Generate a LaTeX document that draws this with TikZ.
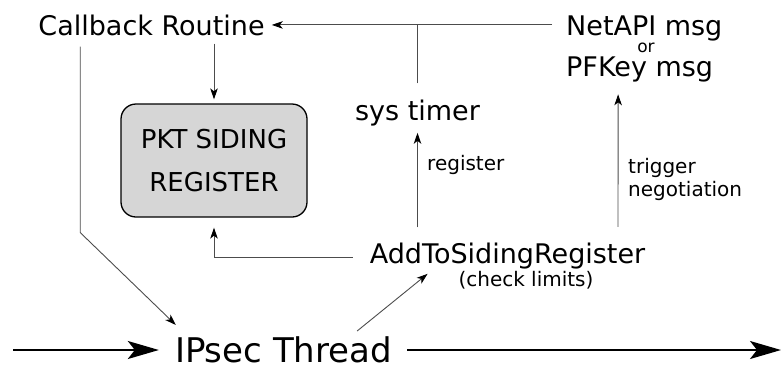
\documentclass[tikz,border=0pt]{standalone}
\usepackage{fontspec}
\setmainfont{DejaVu Sans}
\usetikzlibrary{positioning,arrows.meta,calc}
\tikzset{
        link/.style={draw=black!70, line width=0.9pt, -{Stealth[length=11pt,width=7.5pt,inset=3pt,color=black]}}, % thin connectors
        plain/.style={draw=black!70, line width=0.9pt}, % thin line, no head
        flow/.style={draw=black, line width=1.8pt, -{Stealth[length=31pt,width=18pt,inset=7pt]}}, % the thread's own flow
        lbl/.style={inner sep=0pt, font=\fontsize{27}{30}\selectfont},
        note/.style={inner sep=0pt, font=\fontsize{20}{23}\selectfont},
        siding/.style={draw, line width=1.3pt, fill=black!16, rounded corners=15pt,
                minimum width=186pt, minimum height=113pt, align=center,
                font=\fontsize{26}{43}\selectfont},
}

\begin{document}
\begin{tikzpicture}[x=1pt,y=-1pt]
\useasboundingbox (0,0) rectangle (781,365);

\node[lbl, anchor=base] (cb) at (151.5,35) {Callback Routine};
\node[lbl, anchor=base west] (net) at (566,35) {NetAPI msg};
\node[inner sep=0pt, font=\fontsize{17}{20}\selectfont, anchor=base] (or) at (646,52) {or};
\node[lbl, anchor=base west] (pfkey) at (566,76) {PFKey msg};
\node[lbl, anchor=base] (timer) at (417.5,120) {sys timer};
\node[siding] (reg) at (214,160.5) {PKT SIDING\\REGISTER};
\node[lbl, anchor=base] (add) at (507.5,263) {AddToSidingRegister};
\node[note, anchor=base] (limits) at (526,286) {(check limits)};
\node[inner sep=0pt, font=\fontsize{34}{40}\selectfont, anchor=base] (ipsec) at (283.5,362) {IPsec Thread};
\coordinate (in) at (13,350);
\coordinate (out) at (781,350);

% timer and message both call back
\draw[link, shorten <=14pt, shorten >=7pt] (net.west |- cb.east) -- (cb.east);
\draw[plain, shorten <=16pt] (timer.north) -- (timer.north |- cb.east);
\draw[link, shorten <=8pt, shorten >=4pt] (cb.south -| reg.north) -- (reg.north);
\draw[link] ($(cb.south west)+(42,11)$) -- ++(0,186) -- ($(ipsec.north west)+(1,-11)$);

% register step
\draw[link] ($(ipsec.north east)+(-35,-5)$) -- ($(add.south west)+(58,5)$);
\draw[link] ($(add.west)+(-17,2)$) -| ($(reg.south)+(0,10)$);
\draw[link, shorten <=15pt, shorten >=7pt] (timer.south |- add.north) -- (timer.south);
\draw[link] ($(add.north)+(110.5,-15.5)$) -- ($(pfkey.south)+(-21.5,12.5)$);
\node[note, anchor=base west] (regnote) at (427,170) {register};
\node[note, anchor=west, align=left] (trig) at (628,179) {trigger\\negotiation};

% packets through the thread
\draw[flow, shorten >=16pt] (in) -- (in -| ipsec.west);
\draw[flow, shorten <=15pt] (out -| ipsec.east) -- (out);
\end{tikzpicture}
\end{document}
